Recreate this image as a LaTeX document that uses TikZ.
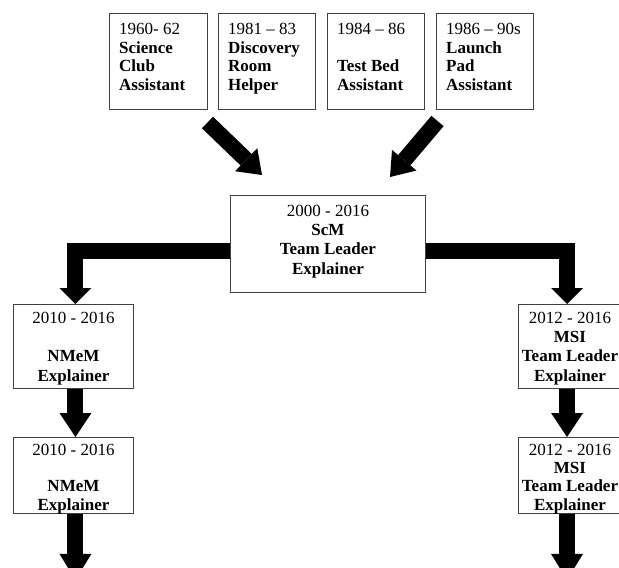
\documentclass[tikz,border=0pt]{standalone}
\usepackage{fontspec}
\setmainfont{Liberation Serif}
\usetikzlibrary{arrows.meta,calc}
\begin{document}
\begin{tikzpicture}[x=1pt,y=-1pt,
  box/.style={draw=black!75,line width=0.9pt,inner sep=0pt,anchor=north west},
  txt/.style={inner sep=0pt,font=\fontsize{17}{18.7}\selectfont},
  ctxt/.style={inner sep=0pt,font=\fontsize{17}{19.2}\selectfont,align=center,anchor=north},
  ctxts/.style={inner sep=0pt,font=\fontsize{17}{18.2}\selectfont,align=center,anchor=north},
  big/.style={line width=16pt,draw=black,line join=miter},
  bighead/.style={-{Triangle[width=32pt,length=#1,line width=0pt]}},
]
\useasboundingbox (0,0) rectangle (619,568);
% top boxes
\node[box,minimum width=98pt,minimum height=96pt] (t1) at (109,13) {};
\node[box,minimum width=97pt,minimum height=96pt] (t2) at (218,13) {};
\node[box,minimum width=97pt,minimum height=96pt] (t3) at (327,13) {};
\node[box,minimum width=97pt,minimum height=96pt] (t4) at (436,13) {};
\node[txt,anchor=north west,align=left] (t1x) at ($(t1.north west)+(10,10)$) {1960- 62\\\textbf{Science}\\\textbf{Club}\\\textbf{Assistant}};
\node[txt,anchor=north west,align=left] (t2x) at ($(t2.north west)+(10,10)$) {1981 – 83\\\textbf{Discovery}\\\textbf{Room}\\\textbf{Helper}};
\node[txt,anchor=north west,align=left] (t3x) at ($(t3.north west)+(10,10)$) {1984 – 86\\\mbox{}\\\textbf{Test Bed}\\\textbf{Assistant}};
\node[txt,anchor=north west,align=left] (t4x) at ($(t4.north west)+(10,10)$) {1986 – 90s\\\textbf{Launch}\\\textbf{Pad}\\\textbf{Assistant}};
% centre box
\node[box,minimum width=195pt,minimum height=97pt] (c) at (230,195) {};
\node[ctxt] (cx) at ($(c.north)+(0,10)$) {2000 - 2016\\\textbf{ScM}\\\textbf{Team Leader}\\\textbf{Explainer}};
% left column
\node[box,minimum width=120pt,minimum height=84pt] (l1) at (13,304) {};
\node[box,minimum width=120pt,minimum height=76pt] (l2) at (13,437) {};
\node[ctxt] (l1x) at ($(l1.north)+(0,8)$) {2010 - 2016\\\mbox{}\\\textbf{NMeM}\\\textbf{Explainer}};
\node[ctxts] (l2x) at ($(l2.north)+(0,7)$) {2010 - 2016\\\mbox{}\\\textbf{NMeM}\\\textbf{Explainer}};
% right column
\node[box,minimum width=122pt,minimum height=84pt] (r1) at (518,304) {};
\node[box,minimum width=122pt,minimum height=76pt] (r2) at (518,437) {};
\node[ctxt] (r1x) at ($(r1.north west)+(52,8)$) {2012 - 2016\\\textbf{MSI}\\\textbf{Team Leader}\\\textbf{Explainer}};
\node[ctxts] (r2x) at ($(r2.north west)+(52,7)$) {2012 - 2016\\\textbf{MSI}\\\textbf{Team Leader}\\\textbf{Explainer}};
% diagonal arrows
\coordinate (d1s) at (207.5,122.5);
\coordinate (d1e) at (262,175);
\coordinate (d2s) at (437.5,121);
\coordinate (d2e) at (390,177);
\draw[big,bighead=22pt] (d1s) -- (d1e);
\draw[big,bighead=22pt] (d2s) -- (d2e);
% elbow arrows
\draw[big,bighead=16pt] ($(c.west)+(0,7.5)$) -| ($(l1.north)+(2,0)$);
\draw[big,bighead=16pt] ($(c.east)+(0,7.5)$) -| ($(r1.north west)+(49,0)$);
% vertical arrows
\draw[big,bighead=24pt] ($(l1.south)+(2,0)$) -- ($(l2.north)+(2,0)$);
\draw[big,bighead=24pt] ($(r1.south west)+(49,0)$) -- ($(r2.north west)+(49,0)$);
\coordinate (lend) at ($(l2.south)+(2,66)$);
\coordinate (rend) at ($(r2.south west)+(49,66)$);
\draw[big,bighead=26pt] ($(l2.south)+(2,0)$) -- (lend);
\draw[big,bighead=26pt] ($(r2.south west)+(49,0)$) -- (rend);
\end{tikzpicture}
\end{document}
